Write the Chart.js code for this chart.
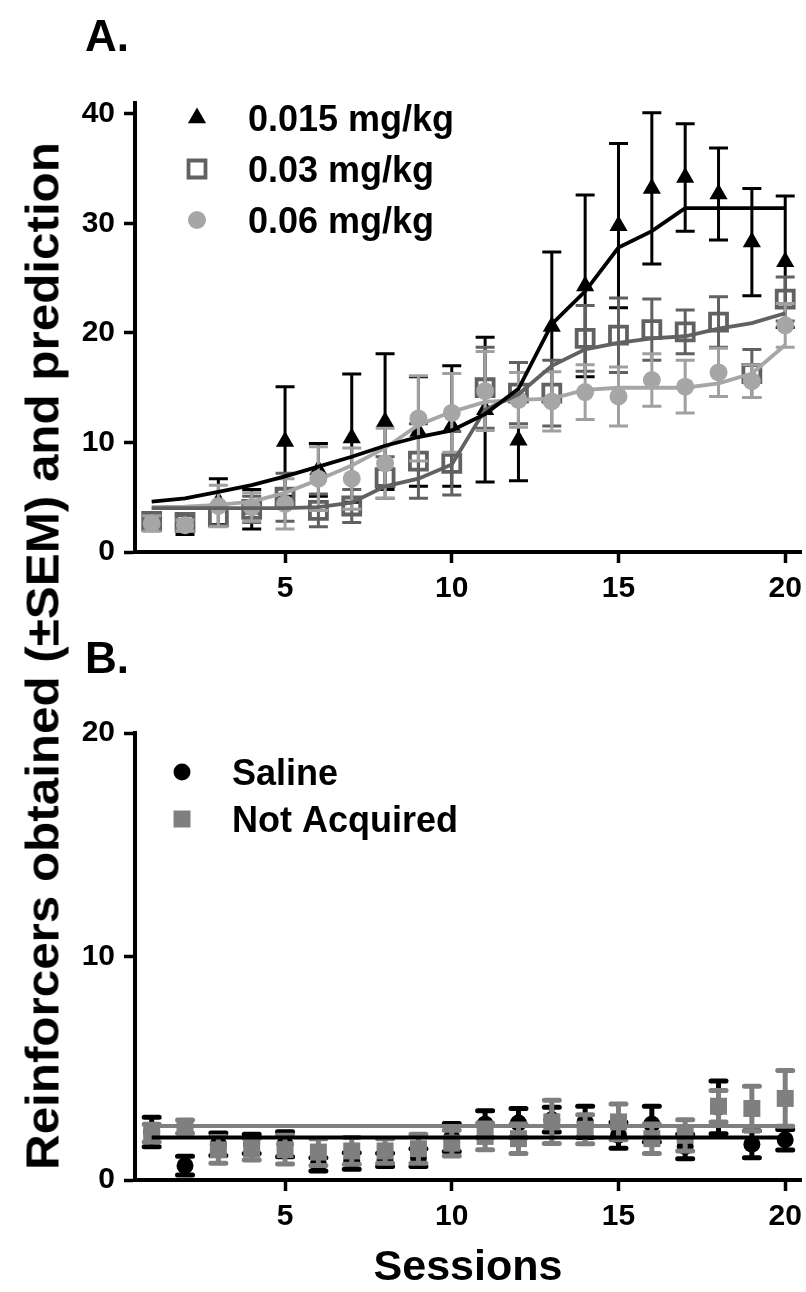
<!DOCTYPE html>
<html>
<head>
<meta charset="utf-8">
<script src="https://cdn.jsdelivr.net/npm/chart.js@4.4.1/dist/chart.umd.min.js"></script>
<style>
  body { margin: 0; background: #fff; }
  #page { position: relative; width: 806px; height: 1292px; overflow: hidden;
          font-family: "Liberation Sans", Arial, sans-serif; font-weight: bold; color: #000; }
  canvas { position: absolute; left: 0; }
  .lbl { position: absolute; white-space: nowrap; line-height: 1; }
  #ytitle { left: 42px; top: 656px; font-size: 47px; transform: translate(-50%, -50%) rotate(-90deg) scaleX(1.05); }
  #xtitle { left: 468px; top: 1265px; font-size: 43px; transform: translate(-50%, -50%); }
</style>
</head>
<body>
<div id="page">
  <canvas id="chartA" width="806" height="640" style="top:0"></canvas>
  <canvas id="chartB" width="806" height="652" style="top:640px"></canvas>
  <div class="lbl" style="left:85px;top:14px;font-size:44px">A.</div>
  <div class="lbl" style="left:85px;top:636px;font-size:44px">B.</div>
  <div class="lbl" id="ytitle">Reinforcers obtained (±SEM) and prediction</div>
  <div class="lbl" id="xtitle">Sessions</div>
</div>
<script>
const FONT = '"Liberation Sans", Arial, sans-serif';

// sessions and ticks
const sessions = [1, 2, 3, 4, 5, 6, 7, 8, 9, 10, 11, 12, 13, 14, 15, 16, 17, 18, 19, 20];
const xTicks = [5, 10, 15, 20];
const yTicksA = [0, 10, 20, 30, 40];
const yTicksB = [0, 10, 20];

// panel A - means, SEM and model prediction per dose
const mean015 = [2.8, 2.5, 4.6, 3.9, 10.1, 7.5, 10.4, 11.9, 11.0, 11.5, 13.0, 10.2, 20.6, 24.3, 29.8, 33.2, 34.2, 32.7, 28.3, 26.5];
const sem015  = [0.6, 0.9, 2.1, 1.8, 5.0, 2.4, 5.85, 6.2, 5.0, 5.5, 6.6, 3.7, 6.8, 8.3, 7.5, 6.9, 4.9, 4.2, 4.9, 6.0];
const mean03  = [2.8, 2.7, 3.2, 3.9, 5.0, 3.8, 4.2, 6.8, 8.3, 8.1, 15.0, 14.5, 14.5, 19.5, 19.8, 20.3, 20.1, 21.0, 16.3, 23.1];
const sem03   = [0.8, 0.6, 0.8, 1.2, 2.2, 1.5, 1.5, 1.9, 3.4, 2.9, 3.7, 2.8, 3.0, 3.0, 3.4, 2.8, 2.0, 2.3, 2.2, 2.0];
const mean06  = [2.6, 2.45, 4.2, 4.1, 4.4, 6.7, 6.7, 8.1, 12.2, 12.7, 14.7, 13.9, 13.75, 14.6, 14.2, 15.7, 15.1, 16.4, 15.6, 20.7];
const sem06   = [0.7, 0.5, 1.9, 1.3, 2.3, 2.9, 2.8, 3.2, 3.9, 3.6, 3.6, 2.5, 2.7, 2.5, 2.7, 2.4, 2.4, 2.2, 1.5, 2.0];
const pred015 = [4.6, 4.9, 5.5, 6.1, 6.9, 7.8, 8.7, 9.7, 10.5, 11.1, 12.6, 14.9, 20.8, 23.8, 27.8, 29.3, 31.4, 31.4, 31.4, 31.4];
const pred03  = [4.0, 4.0, 4.0, 4.0, 4.0, 4.1, 4.5, 6.0, 6.7, 8.0, 13.0, 14.4, 17.0, 18.5, 19.1, 19.5, 19.7, 20.4, 20.9, 21.8];
const pred06  = [4.1, 4.15, 4.3, 4.6, 5.4, 6.6, 7.9, 9.5, 11.6, 12.8, 13.7, 13.9, 14.0, 14.8, 15.0, 15.0, 15.0, 15.4, 16.3, 18.9];

// panel B
const salineMean = [2.15, 0.64, 1.6, 1.62, 1.6, 0.7, 0.85, 0.9, 1.0, 1.9, 2.5, 2.55, 2.7, 2.6, 2.0, 2.5, 1.5, 3.25, 1.6, 1.8];
const salineSem  = [0.66, 0.42, 0.5, 0.43, 0.56, 0.3, 0.37, 0.3, 0.4, 0.63, 0.6, 0.65, 0.55, 0.7, 0.58, 0.8, 0.55, 1.18, 0.6, 0.46];
const notAcqMean = [2.1, 2.39, 1.35, 1.38, 1.36, 1.25, 1.3, 1.3, 1.4, 1.65, 1.95, 1.85, 2.6, 2.27, 2.6, 1.85, 2.0, 3.3, 3.2, 3.65];
const notAcqSem  = [0.4, 0.3, 0.6, 0.48, 0.64, 0.6, 0.6, 0.55, 0.65, 0.58, 0.6, 0.66, 0.97, 0.65, 0.8, 0.66, 0.7, 0.7, 1.0, 1.25];
const predSaline = [1.9, 1.9, 1.9, 1.9, 1.9, 1.9, 1.9, 1.9, 1.9, 1.9, 1.9, 1.9, 1.9, 1.9, 1.9, 1.9, 1.9, 1.9, 1.9, 1.9];
const predNotAcq = [2.42, 2.42, 2.42, 2.42, 2.42, 2.42, 2.42, 2.42, 2.42, 2.42, 2.42, 2.42, 2.42, 2.42, 2.42, 2.42, 2.42, 2.42, 2.42, 2.42];

const DARK = '#616161';
const LIGHT = '#a6a6a6';
const MID = '#7f7f7f';

function xy(vals) {
    return sessions.map((s, i) => ({ x: s, y: vals[i] }));
}

function drawMarker(ctx, ds, x, y) {
    const r = ds.pointRadius;
    ctx.save();
    ctx.beginPath();
    if (ds.pointStyle === 'triangle') {
        for (let k = 0; k < 3; k++) {
            const a = k * 2 * Math.PI / 3;
            const px = x + Math.sin(a) * r, py = y - Math.cos(a) * r;
            if (k === 0) ctx.moveTo(px, py); else ctx.lineTo(px, py);
        }
        ctx.closePath();
    } else if (ds.pointStyle === 'rect') {
        const h = r * Math.SQRT1_2;
        ctx.rect(x - h, y - h, 2 * h, 2 * h);
    } else {
        ctx.arc(x, y, r, 0, 2 * Math.PI);
    }
    ctx.fillStyle = ds.pointBackgroundColor;
    ctx.fill();
    if (ds.pointBorderWidth > 0) {
        ctx.lineWidth = ds.pointBorderWidth;
        ctx.strokeStyle = ds.pointBorderColor;
        ctx.stroke();
    }
    ctx.restore();
}

// error bars drawn just under each marker dataset
const errorBars = {
    id: 'errorBars',
    beforeDatasetDraw(chart, args) {
        const ds = chart.data.datasets[args.index];
        if (!ds.errors) return;
        const ctx = chart.ctx;
        const yScale = chart.scales.y;
        ctx.save();
        ctx.strokeStyle = ds.errorColor;
        ctx.lineWidth = ds.errorWidth;
        ctx.lineCap = ds.errorCap;
        args.meta.data.forEach((pt, i) => {
            const v = ds.data[i].y, e = ds.errors[i];
            const top = yScale.getPixelForValue(v + e);
            const bot = yScale.getPixelForValue(v - e);
            const w = ds.errorCapHalf;
            ctx.beginPath();
            ctx.moveTo(pt.x, top); ctx.lineTo(pt.x, bot);
            ctx.moveTo(pt.x - w, top); ctx.lineTo(pt.x + w, top);
            ctx.moveTo(pt.x - w, bot); ctx.lineTo(pt.x + w, bot);
            ctx.stroke();
        });
        ctx.restore();
    }
};

// legend inside the plot area, top left
const innerLegend = {
    id: 'innerLegend',
    afterDraw(chart, args, opts) {
        const { ctx, chartArea } = chart;
        ctx.save();
        ctx.font = 'bold ' + opts.fontSize + 'px ' + FONT;
        ctx.fillStyle = '#000';
        ctx.textBaseline = 'alphabetic';
        opts.items.forEach((idx, k) => {
            const ds = chart.data.datasets[idx];
            const cy = chartArea.top + opts.firstY + k * opts.rowGap;
            drawMarker(ctx, ds, chartArea.left + opts.markerX, cy);
            ctx.fillText(ds.label, chartArea.left + opts.textX, cy + opts.fontSize * 0.36);
        });
        ctx.restore();
    }
};

function makeScales(yMax, yTicks, xHeight) {
    const grid = { drawOnChartArea: false, tickLength: 11, tickWidth: 3.5, tickColor: '#000' };
    const border = { color: '#000', width: 4 };
    return {
        x: {
            type: 'linear', min: 0.5, max: 20.5,
            afterBuildTicks: s => { s.ticks = xTicks.map(v => ({ value: v })); },
            afterFit: s => { s.height = xHeight; },
            ticks: { font: { family: FONT, size: 30, weight: 'bold', lineHeight: 1.45 },
                     color: '#000', padding: 4, maxRotation: 0, autoSkip: false },
            grid: grid, border: border
        },
        y: {
            type: 'linear', min: 0, max: yMax,
            afterBuildTicks: s => { s.ticks = yTicks.map(v => ({ value: v })); },
            afterFit: s => { s.width = 135; },
            ticks: { font: { family: FONT, size: 30, weight: 'bold' }, color: '#000', padding: 9 },
            grid: grid, border: border
        }
    };
}

function lineSet(label, vals, color, width, order) {
    return { label: label, data: xy(vals), showLine: true, borderColor: color, borderWidth: width,
             pointRadius: 0, tension: 0, fill: false, order: order };
}

const baseOptions = (scales, padTop, legend) => ({
    responsive: false,
    animation: false,
    devicePixelRatio: 1,
    layout: { padding: { top: padTop, right: 4, left: 0, bottom: 0 }, autoPadding: false },
    scales: scales,
    plugins: { legend: { display: false }, tooltip: { enabled: false }, innerLegend: legend }
});

new Chart(document.getElementById('chartA'), {
    type: 'scatter',
    data: {
        datasets: [
            lineSet('pred 0.015', pred015, '#000', 3.8, 1),
            lineSet('pred 0.03', pred03, DARK, 3.8, 2),
            lineSet('pred 0.06', pred06, LIGHT, 3.8, 3),
            { label: '0.06 mg/kg', data: xy(mean06), errors: sem06, errorColor: '#a0a0a0', errorWidth: 3,
              errorCap: 'butt', errorCapHalf: 9.5, pointStyle: 'circle', pointRadius: 9,
              pointBackgroundColor: LIGHT, pointBorderColor: LIGHT, pointBorderWidth: 0, order: 4, clip: false },
            { label: '0.03 mg/kg', data: xy(mean03), errors: sem03, errorColor: DARK, errorWidth: 3,
              errorCap: 'butt', errorCapHalf: 9.5, pointStyle: 'rect', pointRadius: 12,
              pointBackgroundColor: 'rgba(0,0,0,0)', pointBorderColor: DARK, pointBorderWidth: 3.8, order: 5, clip: false },
            { label: '0.015 mg/kg', data: xy(mean015), errors: sem015, errorColor: '#000', errorWidth: 3,
              errorCap: 'butt', errorCapHalf: 9.5, pointStyle: 'triangle', pointRadius: 10.5,
              pointBackgroundColor: '#000', pointBorderColor: '#000', pointBorderWidth: 0, order: 6, clip: false }
        ]
    },
    options: baseOptions(makeScales(41, yTicksA, 88), 103,
        { items: [5, 4, 3], markerX: 62, textX: 113, firstY: 15, rowGap: 51, fontSize: 36 }),
    plugins: [errorBars, innerLegend]
});

new Chart(document.getElementById('chartB'), {
    type: 'scatter',
    data: {
        datasets: [
            lineSet('pred saline', predSaline, '#000', 4, 1),
            lineSet('pred not acquired', predNotAcq, MID, 4, 2),
            { label: 'Not Acquired', data: xy(notAcqMean), errors: notAcqSem, errorColor: MID, errorWidth: 5,
              errorCap: 'round', errorCapHalf: 7.5, pointStyle: 'rect', pointRadius: 12,
              pointBackgroundColor: MID, pointBorderColor: MID, pointBorderWidth: 0, order: 3, clip: false },
            { label: 'Saline', data: xy(salineMean), errors: salineSem, errorColor: '#000', errorWidth: 5,
              errorCap: 'round', errorCapHalf: 7.5, pointStyle: 'circle', pointRadius: 8.5,
              pointBackgroundColor: '#000', pointBorderColor: '#000', pointBorderWidth: 0, order: 4, clip: false }
        ]
    },
    options: baseOptions(makeScales(20, yTicksB, 112), 93,
        { items: [3, 2], markerX: 47, textX: 97, firstY: 39, rowGap: 47, fontSize: 36 }),
    plugins: [errorBars, innerLegend]
});
</script>
</body>
</html>
